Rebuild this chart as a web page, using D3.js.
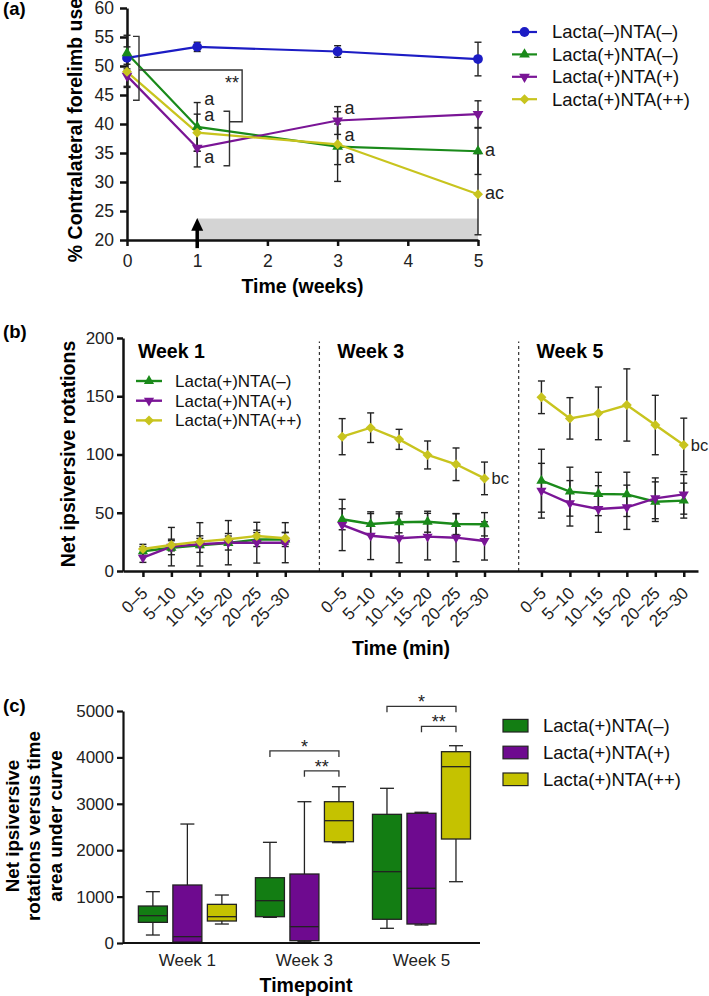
<!DOCTYPE html>
<html>
<head>
<meta charset="utf-8">
<script src="https://cdn.jsdelivr.net/npm/d3@7"></script>
<style>
  body { margin: 0; background: #fff; }
  svg { display: block; }
</style>
</head>
<body>
<svg id="fig" width="709" height="996"></svg>
<script>
// ---- data -------------------------------------------------------------
var groupNames = ["Lacta(–)NTA(–)", "Lacta(+)NTA(–)", "Lacta(+)NTA(+)", "Lacta(+)NTA(++)"];

// (a) % contralateral forelimb use, weeks 0,1,3,5
var forelimbWeeks = [0, 1, 3, 5];
var forelimbBlue = [51.4, 53.3, 52.5, 51.2];
var forelimbBlueErr = [1.9, 0.8, 1.0, 2.9];
var forelimbGreen = [52.2, 39.5, 36.1, 35.3];
var forelimbGreenErr = [3.1, 4.2, 6.0, 4.0];
var forelimbPurple = [48.3, 35.9, 40.6, 41.7];
var forelimbPurpleErr = [2.0, 3.3, 2.4, 2.3];
var forelimbYellow = [49.0, 38.5, 36.5, 27.9];
var forelimbYellowErr = [2.5, 3.2, 3.5, 7.0];
var letterWeeks = [1, 1, 1, 3, 3, 3, 5, 5];
var letterValues = [44.1, 41.4, 34.2, 42.6, 38.0, 34.2, 35.3, 27.9];
var letterTexts = ["a", "a", "a", "a", "a", "a", "a", "ac"];

// (b) net ipsiversive rotations per 5-min bin, weeks 1,3,5
var rotWeeks = ["Week 1", "Week 3", "Week 5"];
var rotBins = ["0–5", "5–10", "10–15", "15–20", "20–25", "25–30"];
var rotGreen = [17, 20, 22, 24, 27, 27, 44.4, 40.3, 41.8, 42.3, 40.3, 40.1, 77.5, 68.1, 66.1, 65.8, 59.5, 60.4];
var rotGreenErr = [4, 6, 6, 6, 6, 6, 9, 9, 9, 9, 9, 10, 27, 21, 18.6, 19, 17, 15];
var rotPurple = [11.4, 20.9, 22.9, 24.3, 24.3, 24.3, 39.5, 30.3, 28.1, 29.5, 28.6, 25.8, 68.9, 58.1, 53.2, 54.7, 62.4, 65.8];
var rotPurpleErr = [4, 16.5, 18.6, 19, 17.5, 17.2, 22, 20.5, 21, 20, 20.6, 16.4, 23.5, 19.5, 20, 19, 17.5, 17];
var rotYellow = [18.9, 22.3, 25.2, 27.2, 30, 28.1, 115.3, 123, 113, 99.6, 91.6, 79.5, 149.1, 131, 135.3, 142.5, 125.3, 108.2];
var rotYellowErr = [4, 5, 5, 5, 5, 5, 15.5, 12.7, 8.6, 12, 14, 14, 14, 17.8, 22.6, 31, 25.5, 23];
var rotLetterIdx = [11, 17];   // points tagged "bc"

// (c) area under curve, box = [min, q1, median, q3, max]
var aucWeeks = ["Week 1", "Week 3", "Week 5"];
var aucGreen = [[172, 445, 589, 797, 1106], [553, 567, 912, 1407, 2170], [317, 511, 1537, 2773, 3334]];
var aucPurple = [[0, 20, 137, 1250, 2564], [28, 50, 352, 1487, 3045], [388, 409, 1179, 2795, 2817]];
var aucYellow = [[409, 474, 567, 833, 1034], [2162, 2183, 2636, 3045, 3368], [1321, 2241, 3800, 4123, 4252]];
var sigWeek = [1, 1, 2, 2];
var sigFrom = [0, 1, 0, 1];
var sigTo = [2, 2, 2, 2];
var sigLevel = [4140, 3710, 5100, 4670];
var sigText = ["*", "**", "*", "**"];

// ---- setup ------------------------------------------------------------
var FONT = '"Liberation Sans", Arial, Helvetica, sans-serif';
var colBlue = "#1c1cc4", colGreen = "#1a8a1a", colPurple = "#7a1596", colYellow = "#c8c41e";
var boxGreen = "#137d13", boxPurple = "#6e0a8f", boxYellow = "#c5c200";

var svg = d3.select("#fig").attr("font-family", FONT);

function styleAxis(g, w, size) {
  g.attr("font-family", FONT).attr("font-size", size);
  g.select(".domain").attr("stroke", "#111").attr("stroke-width", w);
  g.selectAll(".tick line").attr("stroke", "#111").attr("stroke-width", w);
  g.selectAll(".tick text").attr("fill", "#222");
}

function symbolPath(type, size) {
  if (type == "circle") return d3.symbol(d3.symbolCircle, size)();
  if (type == "diamond") return d3.symbol(d3.symbolSquare, size)();
  return d3.symbol(d3.symbolTriangle, size)();
}
function symbolRot(type) {
  if (type == "down") return " rotate(180)";
  if (type == "diamond") return " rotate(45)";
  return "";
}

function errBar(g, x, y1, y2, cap) {
  g.append("line").attr("x1", x).attr("x2", x).attr("y1", y1).attr("y2", y2);
  g.append("line").attr("x1", x - cap).attr("x2", x + cap).attr("y1", y1).attr("y2", y1);
  g.append("line").attr("x1", x - cap).attr("x2", x + cap).attr("y1", y2).attr("y2", y2);
}

function panelLabel(txt, y) {
  svg.append("text").attr("x", 3).attr("y", y).attr("font-weight", "bold")
    .attr("font-size", 18.5).text(txt);
}

// ---- panel (a) ----------------------------------------------------------
function drawPanelA() {
  var xA = d3.scaleLinear().domain([0, 5]).range([127, 478]);
  var yA = d3.scaleLinear().domain([20, 60]).range([240, 8]);
  var series = [
    { vals: forelimbBlue, err: forelimbBlueErr, color: colBlue, sym: "circle", size: 75 },
    { vals: forelimbGreen, err: forelimbGreenErr, color: colGreen, sym: "up", size: 50 },
    { vals: forelimbPurple, err: forelimbPurpleErr, color: colPurple, sym: "down", size: 50 },
    { vals: forelimbYellow, err: forelimbYellowErr, color: colYellow, sym: "diamond", size: 50 }
  ];

  // shaded treatment window + arrow
  svg.append("rect")
    .attr("x", xA(1)).attr("y", yA(23.7))
    .attr("width", xA(5) - xA(1)).attr("height", yA(20) - yA(23.7))
    .attr("fill", "#d4d4d4");

  var ax = svg.append("g").attr("transform", "translate(0," + yA(20) + ")")
    .call(d3.axisBottom(xA).ticks(5).tickSize(6).tickSizeOuter(0).tickPadding(9));
  styleAxis(ax, 2.5, 17.5);
  var ay = svg.append("g").attr("transform", "translate(" + xA(0) + ",0)")
    .call(d3.axisLeft(yA).tickValues(d3.range(20, 61, 5)).tickSize(7).tickSizeOuter(0).tickPadding(6));
  styleAxis(ay, 2.5, 17.5);

  svg.append("line").attr("x1", xA(1)).attr("x2", xA(1))
    .attr("y1", yA(18.6)).attr("y2", yA(22)).attr("stroke", "#000").attr("stroke-width", 3.5);
  svg.append("path")
    .attr("d", "M" + (xA(1) - 6) + "," + yA(21.6) + "L" + xA(1) + "," + yA(23.8) + "L" + (xA(1) + 6) + "," + yA(21.6) + "Z")
    .attr("fill", "#000");

  // error bars
  var eg = svg.append("g").attr("stroke", "#222").attr("stroke-width", 1.4);
  series.forEach(function (s) {
    s.vals.forEach(function (v, i) {
      errBar(eg, xA(forelimbWeeks[i]), yA(v + s.err[i]), yA(v - s.err[i]), 3.5);
    });
  });

  var line = d3.line()
    .x(function (d, i) { return xA(forelimbWeeks[i]); })
    .y(function (d) { return yA(d); });
  series.forEach(function (s) {
    svg.append("path").datum(s.vals).attr("d", line)
      .attr("fill", "none").attr("stroke", s.color).attr("stroke-width", 2.2);
  });
  series.forEach(function (s) {
    svg.append("g").selectAll("path").data(s.vals).enter().append("path")
      .attr("d", symbolPath(s.sym, s.size))
      .attr("transform", function (d, i) { return "translate(" + xA(forelimbWeeks[i]) + "," + yA(d) + ")" + symbolRot(s.sym); })
      .attr("fill", s.color);
  });

  // significance bracket (**)
  var bg = svg.append("g").attr("stroke", "#333").attr("stroke-width", 1.4).attr("fill", "none");
  var bx1 = xA(0) + 12, bx2 = xA(1.64), bx3 = xA(1.46);
  bg.append("path").attr("d",
    "M" + (bx1 - 6) + "," + yA(55.1) + "H" + bx1 + "V" + yA(44.1) + "H" + (bx1 - 6));
  bg.append("path").attr("d",
    "M" + bx1 + "," + yA(49.3) + "H" + bx2 + "V" + yA(40.4) + "H" + bx3);
  bg.append("path").attr("d",
    "M" + (bx3 - 6) + "," + yA(42.2) + "H" + bx3 + "V" + yA(32.8) + "H" + (bx3 - 6));
  svg.append("text").attr("x", bx2 - 3).attr("y", yA(49.3) + 19).attr("text-anchor", "end")
    .attr("font-size", 18).attr("fill", "#222").text("**");

  svg.append("g").selectAll("text").data(letterTexts).enter().append("text")
    .attr("x", function (d, i) { return xA(letterWeeks[i]) + 7; })
    .attr("y", function (d, i) { return yA(letterValues[i]) + 5; })
    .attr("font-size", 18).attr("fill", "#222")
    .text(function (d) { return d; });

  svg.append("text").attr("transform", "translate(75,130) rotate(-90)")
    .attr("text-anchor", "middle").attr("dy", "0.35em")
    .attr("font-weight", "bold").attr("font-size", 19.5)
    .text("% Contralateral forelimb use");
  svg.append("text").attr("x", (xA(0) + xA(5)) / 2).attr("y", 293)
    .attr("text-anchor", "middle").attr("font-weight", "bold").attr("font-size", 19.5)
    .text("Time (weeks)");

  // legend
  var lg = svg.append("g");
  series.forEach(function (s, i) {
    var yy = 32 + i * 22.4;
    lg.append("line").attr("x1", 512).attr("x2", 537).attr("y1", yy).attr("y2", yy)
      .attr("stroke", s.color).attr("stroke-width", 2.2);
    lg.append("path").attr("d", symbolPath(s.sym, s.size))
      .attr("transform", "translate(524.5," + yy + ")" + symbolRot(s.sym)).attr("fill", s.color);
    lg.append("text").attr("x", 552).attr("y", yy).attr("dy", "0.35em")
      .attr("font-size", 18.5).attr("fill", "#111").text(groupNames[i]);
  });
  panelLabel("(a)", 15);
}

// ---- panel (b) ----------------------------------------------------------
function drawPanelB() {
  var xB = d3.scaleLinear().domain([-0.7, 19.5]).range([123, 698]);
  var yB = d3.scaleLinear().domain([0, 200]).range([571, 338]);
  var idx = [];
  rotWeeks.forEach(function (w, g) { rotBins.forEach(function (b, i) { idx.push(g * 7 + i); }); });
  var series = [
    { vals: rotGreen, err: rotGreenErr, color: colGreen, sym: "up", size: 45, name: groupNames[1] },
    { vals: rotPurple, err: rotPurpleErr, color: colPurple, sym: "down", size: 45, name: groupNames[2] },
    { vals: rotYellow, err: rotYellowErr, color: colYellow, sym: "diamond", size: 50, name: groupNames[3] }
  ];

  [6.2, 13.2].forEach(function (d) {
    svg.append("line").attr("x1", xB(d)).attr("x2", xB(d)).attr("y1", yB(0)).attr("y2", yB(197))
      .attr("stroke", "#333").attr("stroke-width", 1.2).attr("stroke-dasharray", "3,3");
  });

  var ax = svg.append("g").attr("transform", "translate(0," + yB(0) + ")")
    .call(d3.axisBottom(xB).tickValues(idx).tickSize(6).tickSizeOuter(0)
      .tickFormat(function (d) { return rotBins[d % 7]; }));
  styleAxis(ax, 2.5, 17);
  ax.selectAll(".tick text")
    .attr("y", 0).attr("dy", "0.35em").attr("text-anchor", "end")
    .attr("transform", "translate(1,19) rotate(-45)");
  var ay = svg.append("g").attr("transform", "translate(" + xB(-0.7) + ",0)")
    .call(d3.axisLeft(yB).tickValues([0, 50, 100, 150, 200]).tickSize(6).tickSizeOuter(0).tickPadding(3));
  styleAxis(ay, 2.5, 17);

  var eg = svg.append("g").attr("stroke", "#222").attr("stroke-width", 1.4);
  series.forEach(function (s) {
    s.vals.forEach(function (v, i) {
      errBar(eg, xB(idx[i]), yB(v + s.err[i]), yB(v - s.err[i]), 3.5);
    });
  });

  var line = d3.line()
    .x(function (d) { return xB(d.i); })
    .y(function (d) { return yB(d.v); });
  series.forEach(function (s) {
    rotWeeks.forEach(function (w, g) {
      var pts = s.vals.slice(g * 6, g * 6 + 6).map(function (v, k) { return { v: v, i: g * 7 + k }; });
      svg.append("path").datum(pts).attr("d", line)
        .attr("fill", "none").attr("stroke", s.color).attr("stroke-width", 2.4);
    });
  });
  series.forEach(function (s) {
    svg.append("g").selectAll("path").data(s.vals).enter().append("path")
      .attr("d", symbolPath(s.sym, s.size))
      .attr("transform", function (d, i) { return "translate(" + xB(idx[i]) + "," + yB(d) + ")" + symbolRot(s.sym); })
      .attr("fill", s.color);
  });

  svg.append("g").selectAll("text").data(rotWeeks).enter().append("text")
    .attr("x", function (d, g) { return xB(g * 7) - 5; })
    .attr("y", 358).attr("font-weight", "bold").attr("font-size", 19.5)
    .text(function (d) { return d; });

  svg.append("g").selectAll("text").data(rotLetterIdx).enter().append("text")
    .attr("x", function (k) { return xB(idx[k]) + 7; })
    .attr("y", function (k) { return yB(rotYellow[k]) + 6; })
    .attr("font-size", 16.5).attr("fill", "#222").text("bc");

  var lg = svg.append("g");
  series.forEach(function (s, i) {
    var yy = 381 + i * 19.7;
    lg.append("line").attr("x1", 136).attr("x2", 162).attr("y1", yy).attr("y2", yy)
      .attr("stroke", s.color).attr("stroke-width", 2.4);
    lg.append("path").attr("d", symbolPath(s.sym, s.size))
      .attr("transform", "translate(149," + yy + ")" + symbolRot(s.sym)).attr("fill", s.color);
    lg.append("text").attr("x", 175).attr("y", yy).attr("dy", "0.35em")
      .attr("font-size", 17).attr("fill", "#111").text(s.name);
  });

  svg.append("text").attr("transform", "translate(68,454) rotate(-90)")
    .attr("text-anchor", "middle").attr("dy", "0.35em")
    .attr("font-weight", "bold").attr("font-size", 19.5)
    .text("Net ipsiversive rotations");
  svg.append("text").attr("x", 401).attr("y", 655)
    .attr("text-anchor", "middle").attr("font-weight", "bold").attr("font-size", 19.5)
    .text("Time (min)");
  panelLabel("(b)", 338);
}

// ---- panel (c) ----------------------------------------------------------
function drawPanelC() {
  var xC = d3.scaleLinear().domain([-0.55, 2.5]).range([123, 480]);
  var yC = d3.scaleLinear().domain([0, 5000]).range([943, 711]);
  var off = [-34.5, 0, 34.5], bw = 29;
  var series = [
    { vals: aucGreen, color: boxGreen, name: groupNames[1] },
    { vals: aucPurple, color: boxPurple, name: groupNames[2] },
    { vals: aucYellow, color: boxYellow, name: groupNames[3] }
  ];

  var ay = svg.append("g").attr("transform", "translate(" + xC(-0.55) + ",0)")
    .call(d3.axisLeft(yC).tickValues(d3.range(0, 5001, 1000)).tickFormat(d3.format("d"))
      .tickSize(6).tickSizeOuter(0).tickPadding(3));
  styleAxis(ay, 2.2, 17);

  series.forEach(function (s, si) {
    s.vals.forEach(function (b, g) {
      var cx = xC(g) + off[si];
      var gg = svg.append("g").attr("stroke", "#222").attr("stroke-width", 1.3);
      gg.append("line").attr("x1", cx).attr("x2", cx).attr("y1", yC(b[4])).attr("y2", yC(b[0]));
      gg.append("line").attr("x1", cx - 7).attr("x2", cx + 7).attr("y1", yC(b[4])).attr("y2", yC(b[4]));
      gg.append("line").attr("x1", cx - 7).attr("x2", cx + 7).attr("y1", yC(b[0])).attr("y2", yC(b[0]));
      gg.append("rect").attr("x", cx - bw / 2).attr("y", yC(b[3]))
        .attr("width", bw).attr("height", yC(b[1]) - yC(b[3])).attr("fill", s.color);
      gg.append("line").attr("x1", cx - bw / 2).attr("x2", cx + bw / 2)
        .attr("y1", yC(b[2])).attr("y2", yC(b[2]));
    });
  });

  // x axis line + category labels
  svg.append("line").attr("x1", xC(-0.55)).attr("x2", xC(2.5)).attr("y1", yC(0)).attr("y2", yC(0))
    .attr("stroke", "#111").attr("stroke-width", 2.2);
  svg.append("g").selectAll("text").data(aucWeeks).enter().append("text")
    .attr("x", function (d, g) { return xC(g); }).attr("y", 966)
    .attr("text-anchor", "middle").attr("font-size", 17).attr("fill", "#222")
    .text(function (d) { return d; });

  var sg = svg.append("g").attr("stroke", "#333").attr("stroke-width", 1.3).attr("fill", "none");
  sigText.forEach(function (t, k) {
    var x1 = xC(sigWeek[k]) + off[sigFrom[k]], x2 = xC(sigWeek[k]) + off[sigTo[k]], y = yC(sigLevel[k]);
    sg.append("path").attr("d", "M" + x1 + "," + (y + 6) + "V" + y + "H" + x2 + "V" + (y + 6));
    svg.append("text").attr("x", (x1 + x2) / 2).attr("y", y + 2).attr("text-anchor", "middle")
      .attr("font-size", 18).attr("fill", "#222").text(t);
  });

  var lg = svg.append("g");
  series.forEach(function (s, i) {
    var yy = 725.7 + i * 26.8;
    lg.append("rect").attr("x", 503).attr("y", yy - 6.3).attr("width", 25).attr("height", 12.6)
      .attr("fill", s.color).attr("stroke", "#222").attr("stroke-width", 1.2);
    lg.append("text").attr("x", 543).attr("y", yy).attr("dy", "0.35em")
      .attr("font-size", 18.5).attr("fill", "#111").text(s.name);
  });

  var titleLines = ["Net ipsiversive", "rotations versus time", "area under curve"];
  svg.append("g").selectAll("text").data(titleLines).enter().append("text")
    .attr("transform", function (d, i) { return "translate(" + (12 + i * 21.7) + ",826) rotate(-90)"; })
    .attr("text-anchor", "middle").attr("dy", "0.35em")
    .attr("font-weight", "bold").attr("font-size", 18.8)
    .text(function (d) { return d; });
  svg.append("text").attr("x", 306).attr("y", 992)
    .attr("text-anchor", "middle").attr("font-weight", "bold").attr("font-size", 19.5)
    .text("Timepoint");
  panelLabel("(c)", 712);
}

drawPanelA();
drawPanelB();
drawPanelC();
</script>
</body>
</html>
